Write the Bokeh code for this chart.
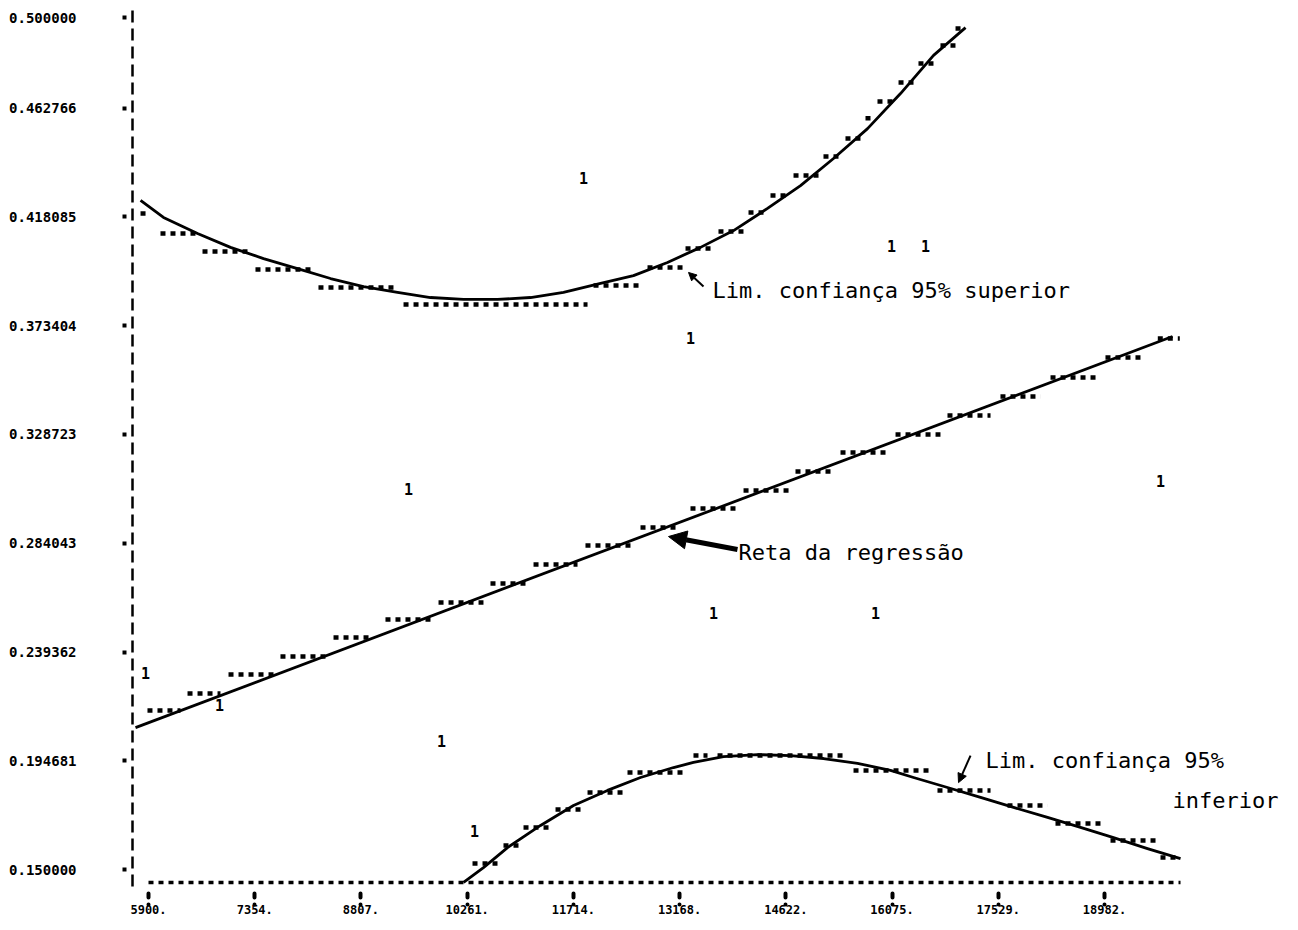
from bokeh.plotting import figure
from bokeh.models import Range1d, FixedTicker, Arrow, NormalHead
from bokeh.core.properties import value
from bokeh.embed import file_html
from bokeh.resources import INLINE

# ---------------- data ----------------
x_ticks = [5900, 7354, 8807, 10261, 11714, 13168, 14622, 16075, 17529, 18982]
x_tick_labels = ["5900.", "7354.", "8807.", "10261.", "11714.", "13168.",
                 "14622.", "16075.", "17529.", "18982."]
y_ticks = [0.150000, 0.194681, 0.239362, 0.284043, 0.328723, 0.373404,
           0.418085, 0.462766, 0.500000]
y_tick_labels = ["0.150000", "0.194681", "0.239362", "0.284043", "0.328723",
                 "0.373404", "0.418085", "0.462766", "0.500000"]

# regression line
reg_x = [5722, 19913]
reg_y = [0.2083, 0.3690]

# upper 95% confidence limit (drawn curve)
upper_x = [5791, 6105, 6571, 7022, 7474, 7939, 8391, 8842, 9308, 9759, 10211,
           10676, 11128, 11579, 12086, 12537, 13002, 13454, 13906, 14371,
           14823, 15274, 15740, 16191, 16643, 17081]
upper_y = [0.4249, 0.4179, 0.4113, 0.4056, 0.4010, 0.3969, 0.3928, 0.3895,
           0.3871, 0.3850, 0.3842, 0.3842, 0.3850, 0.3871, 0.3908, 0.3940,
           0.3994, 0.4056, 0.4125, 0.4216, 0.4310, 0.4421, 0.4544, 0.4688,
           0.4845, 0.4959]

# lower 95% confidence limit (drawn curve)
lower_x = [10211, 10484, 10813, 11265, 11716, 12181, 12633, 13085, 13358,
           13769, 14234, 14686, 15137, 15603, 16054, 16369, 16834, 17286,
           17738, 18203, 18654, 19106, 19571, 20023]
lower_y = [0.1447, 0.1508, 0.1590, 0.1681, 0.1763, 0.1825, 0.1878, 0.1919,
           0.1940, 0.1964, 0.1972, 0.1968, 0.1956, 0.1936, 0.1907, 0.1878,
           0.1837, 0.1796, 0.1755, 0.1714, 0.1673, 0.1631, 0.1586, 0.1545]

# printer-plotted runs (start x, end x, level)
upper_run_x0 = [5791, 6064, 6639, 7364, 8226, 9390, 11990, 12729, 13249, 13700,
                14111, 14412, 14727, 15137, 15438, 15712, 15876, 16164, 16437,
                16738, 16944]
upper_run_x1 = [5927, 6543, 7255, 8158, 9308, 11908, 12633, 13208, 13632, 14043,
                14371, 14658, 15096, 15397, 15685, 15822, 16095, 16369, 16643,
                16971, 17081]
upper_run_y = [0.4195, 0.4113, 0.4039, 0.3965, 0.3891, 0.3821, 0.3899, 0.3973,
               0.4051, 0.4121, 0.4199, 0.4269, 0.4351, 0.4429, 0.4503, 0.4586,
               0.4655, 0.4733, 0.4811, 0.4885, 0.4955]

reg_run_x0 = [5886, 6434, 6995, 7706, 8432, 9143, 9869, 10580, 11169, 11880,
              12633, 13317, 14043, 14754, 15370, 16123, 16834, 17559, 18244,
              18996, 19712]
reg_run_x1 = [6338, 6885, 7611, 8350, 8938, 9759, 10484, 11087, 11771, 12496,
              13180, 13933, 14686, 15301, 15986, 16738, 17423, 18107, 18860,
              19475, 20013]
reg_run_y = [0.2153, 0.2223, 0.2301, 0.2375, 0.2453, 0.2527, 0.2597, 0.2675,
             0.2753, 0.2831, 0.2905, 0.2983, 0.3057, 0.3135, 0.3213, 0.3287,
             0.3365, 0.3443, 0.3521, 0.3604, 0.3682]

lower_run_x0 = [10334, 10758, 11032, 11470, 11908, 12455, 13358, 13687, 15548,
                16697, 17655, 18312, 19065, 19749]
lower_run_x1 = [10676, 10991, 11401, 11853, 12400, 13276, 13550, 15466, 16602,
                17423, 18203, 18928, 19681, 20023]
lower_run_y = [0.1525, 0.1599, 0.1673, 0.1747, 0.1816, 0.1899, 0.1968, 0.1968,
               0.1907, 0.1825, 0.1763, 0.1689, 0.1619, 0.1549]

# bottom printer row
base_x0 = [5900]
base_x1 = [20023]
base_y = [0.1447]

# observations (plotted as "1")
obs_x = [11853, 16068, 16533, 13317, 9458, 19749, 13632, 15849, 5859, 6872,
         9910, 10361]
obs_y = [0.4339, 0.4060, 0.4060, 0.3682, 0.3065, 0.3098, 0.2552, 0.2552,
         0.2309, 0.2174, 0.2030, 0.1660]

# ---------------- figure ----------------
MONO = "DejaVu Sans Mono"

p = figure(width=1290, height=922, output_backend="svg", toolbar_location=None,
           x_range=Range1d(5681, 21528), y_range=Range1d(0.14302, 0.50374),
           min_border_left=132, min_border_right=0, min_border_top=8,
           min_border_bottom=36)
p.grid.visible = False
p.outline_line_color = None
p.background_fill_color = "white"
p.border_fill_color = "white"

# x axis
p.xaxis.ticker = FixedTicker(ticks=x_ticks)
p.xaxis.major_label_overrides = {t: s for t, s in zip(x_ticks, x_tick_labels)}
p.xaxis.axis_line_color = None
p.xaxis.minor_tick_line_color = None
p.xaxis.major_tick_in = 0
p.xaxis.major_tick_out = 18
p.xaxis.major_tick_line_width = 4
p.xaxis.major_tick_line_dash = "0 7 4 30"
p.xaxis.major_tick_line_cap = "round"
p.xaxis.major_label_standoff = 0
p.xaxis.major_label_text_font = MONO
p.xaxis.major_label_text_font_size = "12px"
p.xaxis.major_label_text_font_style = "bold"
p.xaxis.major_label_text_color = "black"

# y axis
p.yaxis.ticker = FixedTicker(ticks=y_ticks)
p.yaxis.major_label_overrides = {t: s for t, s in zip(y_ticks, y_tick_labels)}
p.yaxis.axis_line_color = "black"
p.yaxis.axis_line_width = 2.5
p.yaxis.axis_line_dash = "12 6"
p.yaxis.minor_tick_line_color = None
p.yaxis.major_tick_in = 0
p.yaxis.major_tick_out = 16
p.yaxis.major_tick_line_width = 4
p.yaxis.major_tick_line_dash = "0 6 4 30"
p.yaxis.major_label_standoff = 40
p.yaxis.major_label_text_font = MONO
p.yaxis.major_label_text_font_size = "14px"
p.yaxis.major_label_text_font_style = "bold"
p.yaxis.major_label_text_color = "black"

# printer dotted runs
p.segment(x0=base_x0, y0=base_y, x1=base_x1, y1=base_y, line_width=3.5,
          line_dash="5 5", color="black")
for xs0, xs1, ys in [(upper_run_x0, upper_run_x1, upper_run_y),
                     (reg_run_x0, reg_run_x1, reg_run_y),
                     (lower_run_x0, lower_run_x1, lower_run_y)]:
    p.segment(x0=xs0, y0=ys, x1=xs1, y1=ys, line_width=4.5, line_dash="5 5",
              color="black")

# drawn curves
p.line(reg_x, reg_y, line_width=2.8, color="black")
p.line(upper_x, upper_y, line_width=2.8, color="black", line_join="round")
p.line(lower_x, lower_y, line_width=2.8, color="black", line_join="round")

# observations
p.text(x=obs_x, y=obs_y, text=["1"] * len(obs_x), text_font=value(MONO),
       text_font_size="15px", text_font_style="bold", text_align="center",
       text_baseline="middle", text_color="black")

# annotations
ann_kw = dict(text_font=value(MONO), text_font_size="22px",
              text_baseline="middle", text_align="left", text_color="black")
p.text(x=[13618], y=[0.3879], text=["Lim. confiança 95% superior"], **ann_kw)
p.text(x=[13974], y=[0.2802], text=["Reta da regressão"], **ann_kw)
p.text(x=[17354], y=[0.1948], text=["Lim. confiança 95%"], **ann_kw)
p.text(x=[19913], y=[0.1783], text=["inferior"], **ann_kw)

p.add_layout(Arrow(end=NormalHead(size=8, fill_color="black", line_color="black"),
                   x_start=13495, y_start=0.3895, x_end=13290, y_end=0.3953,
                   line_width=2, line_color="black"))
p.add_layout(Arrow(end=NormalHead(size=18, fill_color="black", line_color="black"),
                   x_start=13960, y_start=0.2815, x_end=13016, y_end=0.2868,
                   line_width=5, line_color="black"))
p.add_layout(Arrow(end=NormalHead(size=9, fill_color="black", line_color="black"),
                   x_start=17149, y_start=0.1968, x_end=16985, y_end=0.1857,
                   line_width=2, line_color="black"))

open("out.html", "w").write(file_html(p, INLINE))
